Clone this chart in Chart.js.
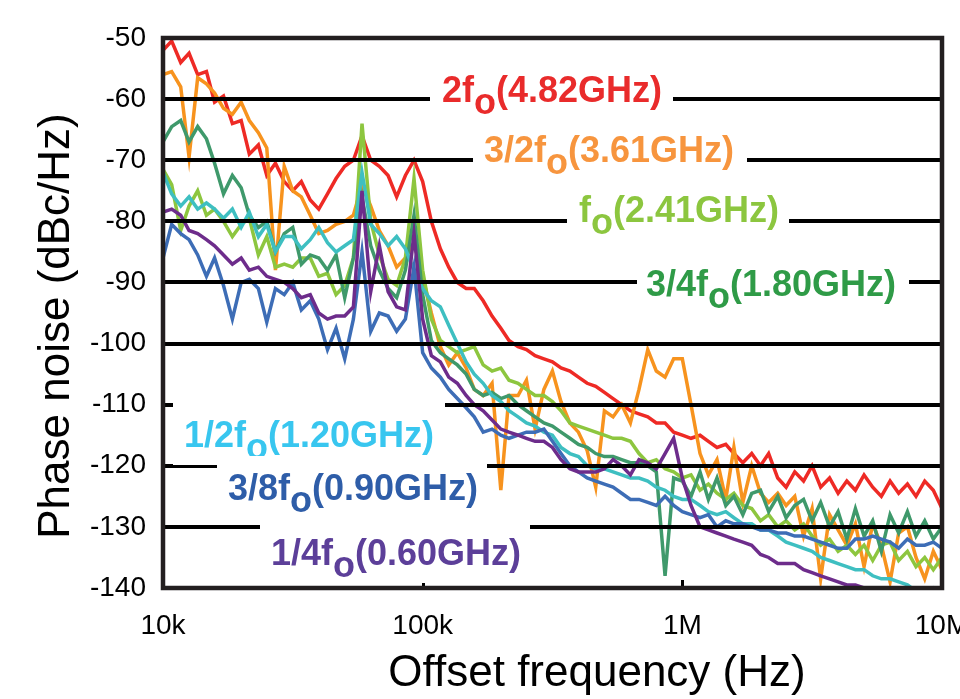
<!DOCTYPE html>
<html>
<head>
<meta charset="utf-8">
<script src="https://cdn.jsdelivr.net/npm/chart.js@4.4.1/dist/chart.umd.min.js"></script>
<style>
  html, body { margin: 0; padding: 0; background: #fff; }
</style>
</head>
<body>
<canvas id="myChart" width="960" height="699"></canvas>
<script>
// Offset frequencies (Hz), 30 points per decade
var freqs = [
  1.00e4, 1.08e4, 1.17e4, 1.26e4, 1.36e4, 1.47e4, 1.58e4, 1.71e4, 1.85e4, 2.00e4,
  2.15e4, 2.33e4, 2.51e4, 2.71e4, 2.93e4, 3.16e4, 3.41e4, 3.69e4, 3.98e4, 4.30e4,
  4.64e4, 5.01e4, 5.41e4, 5.84e4, 6.31e4, 6.81e4, 7.36e4, 7.94e4, 8.58e4, 9.26e4,
  1.00e5, 1.08e5, 1.17e5, 1.26e5, 1.36e5, 1.47e5, 1.58e5, 1.71e5, 1.85e5, 2.00e5,
  2.15e5, 2.33e5, 2.51e5, 2.71e5, 2.93e5, 3.16e5, 3.41e5, 3.69e5, 3.98e5, 4.30e5,
  4.64e5, 5.01e5, 5.41e5, 5.84e5, 6.31e5, 6.81e5, 7.36e5, 7.94e5, 8.58e5, 9.26e5,
  1.00e6, 1.08e6, 1.17e6, 1.26e6, 1.36e6, 1.47e6, 1.58e6, 1.71e6, 1.85e6, 2.00e6,
  2.15e6, 2.33e6, 2.51e6, 2.71e6, 2.93e6, 3.16e6, 3.41e6, 3.69e6, 3.98e6, 4.30e6,
  4.64e6, 5.01e6, 5.41e6, 5.84e6, 6.31e6, 6.81e6, 7.36e6, 7.94e6, 8.58e6, 9.26e6,
  1.00e7
];

// Phase noise (dBc/Hz) of each output
var pn2f = [
  -52, -50.5, -54, -52.5, -56, -55.5, -60.5, -59.5, -64, -63.5,
  -69, -67.5, -72.5, -70.5, -73.5, -75, -73.5, -76.5, -78, -75.5,
  -73, -71, -70, -66, -70, -71, -72.5, -76, -72.5, -70,
  -73.5, -80, -84.5, -87.5, -90, -91, -91, -93, -95.5, -97.5,
  -99.5, -100.5, -101, -102, -102.5, -103, -104, -104.5, -105.5, -106.5,
  -107, -108, -109, -110, -111, -111.5, -112, -113, -113, -114.5,
  -115, -115.5, -115, -116, -117, -116.5, -118, -119.5, -118, -120,
  -118, -122, -123.5, -121, -122.5, -120, -123.5, -122, -124.5, -122.5,
  -124, -121.5, -123.5, -125, -122.5, -124.5, -123, -125, -122.5, -124, -127
];
var pn3_2f = [
  -56, -55.5, -58, -69.5, -56.5, -57.5, -59, -61.5, -62.5, -60.5,
  -63.5, -65.5, -68, -88, -71, -75, -76, -79, -82, -81.5,
  -80.5, -80, -79, -74, -77.5, -81.5, -84, -87.5, -86, -83.5,
  -89, -95, -100.5, -103.5, -101.5, -104, -107.5, -108.5, -106.5, -124,
  -108.5, -108.5, -106, -114, -107.5, -104.5, -109.5, -113, -114.5, -117.5,
  -123.5, -111, -112, -110, -113, -107.5, -101, -104.5, -105.5, -102.5,
  -102.5, -110, -118, -121.5, -119, -125.5, -117, -126, -120, -124.5,
  -126, -124.5, -126.5, -125, -131.5, -127, -138.5, -128, -130.5, -133,
  -129.5, -136.5, -129.5, -133, -139, -131, -130, -135, -138.5, -134, -137
];
var pnF = [
  -71.5, -74, -81.5, -77.5, -75, -79, -78, -80, -82.5, -80.5,
  -79.5, -85.5, -82.5, -87.5, -87, -87.5, -86, -86, -89, -88.5,
  -92, -90.5, -86, -64, -80, -85.5, -89.5, -90.5, -86, -73,
  -88, -96, -99.5, -100.5, -101.5, -101, -100.5, -103.5, -104.5, -104,
  -106, -106.5, -107.5, -108.5, -108.5, -109.5, -111, -113, -113.5, -114,
  -114.5, -115, -115.5, -115.5, -116, -118, -119.5, -119, -120.5, -121,
  -122, -121.5, -124, -123, -124.5, -125.5, -124.5, -126.5, -127, -129,
  -128, -130, -129, -130.5, -129.5, -131.5, -133, -132, -134, -133,
  -134.5, -133, -135.5, -133, -132.5, -135.5, -134, -136.5, -135, -137, -135
];
var pn3_4f = [
  -67, -64.5, -63.5, -67, -64.5, -66.5, -70.5, -75.5, -72.5, -74.5,
  -79, -81, -80, -85, -82, -81, -87, -85.5, -86, -88,
  -85.5, -92.5, -86, -76, -84, -88, -91, -92.5, -88, -79,
  -92, -99.5, -101.5, -102.5, -103.5, -105, -107.5, -108.5, -108, -109,
  -108.5, -110, -111, -112, -113, -113.5, -114.5, -115.5, -116.5, -117,
  -118, -118.5, -118.5, -119, -119.5, -119.5, -120, -121, -138, -122,
  -122.5, -125, -121, -125.5, -122, -126.5, -125, -128, -124.5, -124,
  -127.5, -125, -128.5, -126.5, -125.5, -129, -126, -130, -127.5, -132,
  -127, -131.5, -129, -134, -128, -131, -127.5, -131.5, -129, -132, -130
];
var pn1_2f = [
  -72, -75.5, -77.5, -76, -78, -77, -78, -79.5, -78, -81,
  -78.5, -82.5, -80.5, -85, -82.5, -82.5, -84.5, -83, -81, -83.5,
  -85, -84, -83, -72, -80.5, -82, -84, -82.5, -84.5, -88,
  -91, -93, -94, -97, -100, -103, -105, -106.5, -108.5, -109.5,
  -111, -112, -113, -113.5, -114.5, -115, -117, -118, -118.5, -120,
  -120.5, -120.5, -121, -121.5, -122, -122, -122.5, -123.5, -124, -125,
  -125.5, -125.5, -126.5, -127.5, -128, -127.5, -128.5, -129.5, -129.5, -130.5,
  -130.5, -131.5, -132.5, -133, -133.5, -134, -135, -135.5, -136, -136.5,
  -137, -137, -138, -138.5, -138.5, -139, -139.5, -140.5, -141, -140, -141.5
];
var pn3_8f = [
  -86, -80.5, -82, -83, -85.5, -89, -86, -90.5, -96, -90,
  -89.5, -91, -96.5, -91, -92, -90, -94.5, -93, -96, -101,
  -97.5, -102.5, -96, -85, -98, -95, -95.5, -98, -96, -87.5,
  -101.5, -104, -105.5, -107.5, -109, -110.5, -112, -114.5, -114, -115,
  -115.5, -115, -114.5, -114.5, -114, -116, -118, -120, -121, -122,
  -122.5, -123, -123.5, -124.5, -125.5, -125.5, -126, -126.5, -125, -126.5,
  -127.5, -128, -128.5, -128, -130, -129, -129.5, -129.5, -130, -130.5,
  -130.5, -131, -131, -131.5, -131.5, -132, -132.5, -133, -133.5, -133.5,
  -132, -132, -131.5, -132, -132.5, -133.5, -132, -133, -133, -132.5, -133.5
];
var pn1_4f = [
  -78.5, -78, -79, -81.5, -82, -83, -84, -85.5, -87, -86,
  -88, -87.5, -89, -89.5, -90, -91, -92.5, -92, -95, -96,
  -95.5, -95.5, -94, -75, -91.5, -84, -91.5, -94, -94.5, -82,
  -96, -102, -103, -105.5, -106.5, -108.5, -110, -111, -112.5, -114,
  -114.5, -115, -115.5, -116, -116, -117, -119, -120.5, -121, -121,
  -121, -120.5, -119, -120, -121.5, -119, -119.5, -120.5, -118, -115.5,
  -122, -126.5, -130, -130.5, -131, -131.5, -132, -132.5, -133, -134.5,
  -135, -136, -136, -136, -137, -137.5, -138, -138.5, -139, -139.5,
  -139.5, -140, -140.5, -141, -141, -141.5, -142, -142, -142.5, -143, -143
];

var xTickValues = [1e4, 1e5, 1e6, 1e7];
var xTickLabels = ['10k', '100k', '1M', '10M'];

// Label text is split around the subscript "o"
var labelHead = ['2f', '3/2f', 'f', '3/4f', '1/2f', '3/8f', '1/4f'];
var labelTail = ['(4.82GHz)', '(3.61GHz)', '(2.41GHz)', '(1.80GHz)', '(1.20GHz)', '(0.90GHz)', '(0.60GHz)'];

var series = [pn2f, pn3_2f, pnF, pn3_4f, pn1_2f, pn3_8f, pn1_4f];
var lineColors = ['#ee2a25', '#f7931e', '#8dc63f', '#3f996b', '#3ebfc1', '#3d6db6', '#6d2c8b'];
var textColors = ['#e92b2b', '#f7953e', '#8cc63f', '#2f9b47', '#38c6ef', '#2e5da8', '#5c3f99'];
// left x, baseline y, white box left/right (px)
var labelPos = [
  [442, 102, 430, 673],
  [484, 162, 473, 747],
  [579, 222, 567, 789],
  [646, 296, 637, 909],
  [184, 447, 173, 445],
  [228, 500, 217, 487],
  [271, 565, 260, 530]
];

var datasets = series.map(function (vals, i) {
  return {
    label: labelHead[i] + 'o' + labelTail[i],
    data: vals.map(function (v, j) { return { x: freqs[j], y: v }; }),
    borderColor: lineColors[i],
    borderWidth: 3.5,
    pointRadius: 0,
    tension: 0,
    fill: false,
    order: series.length - 1 - i
  };
});

var overlay = {
  id: 'overlay',
  afterDatasetsDraw: function (chart) {
    var ctx = chart.ctx, a = chart.chartArea;
    var ys = chart.scales.y, xs = chart.scales.x;
    ctx.save();

    // horizontal grid lines sit on top of the traces
    ctx.strokeStyle = '#000';
    ctx.lineWidth = 4;
    ys.ticks.forEach(function (t) {
      if (t.value <= ys.min || t.value >= ys.max) return;
      var y = Math.round(ys.getPixelForValue(t.value));
      ctx.beginPath();
      ctx.moveTo(a.left, y);
      ctx.lineTo(a.right, y);
      ctx.stroke();
    });

    // small inward ticks on the frequency axis
    ctx.lineWidth = 3;
    xTickValues.forEach(function (v) {
      var x = Math.round(xs.getPixelForValue(v)) + 0.5;
      ctx.beginPath();
      ctx.moveTo(x, a.bottom);
      ctx.lineTo(x, a.bottom - 8);
      ctx.stroke();
    });

    // trace labels on white backing
    ctx.font = 'bold 36px "Liberation Sans", Arial, sans-serif';
    ctx.textBaseline = 'alphabetic';
    ctx.textAlign = 'left';
    labelPos.forEach(function (p, i) {
      ctx.fillStyle = '#fff';
      ctx.fillRect(p[2], p[1] - 44, p[3] - p[2], 62);
      ctx.fillStyle = textColors[i];
      var x = p[0];
      ctx.fillText(labelHead[i], x, p[1]);
      x += ctx.measureText(labelHead[i]).width;
      ctx.fillText('o', x, p[1] + 12);
      x += ctx.measureText('o').width;
      ctx.fillText(labelTail[i], x, p[1]);
    });

    // plot frame
    ctx.strokeStyle = '#231f20';
    ctx.lineWidth = 4.5;
    ctx.strokeRect(a.left, a.top, a.right - a.left, a.bottom - a.top);
    ctx.restore();
  },
  afterDraw: function (chart) {
    var ctx = chart.ctx;
    ctx.save();
    ctx.fillStyle = '#000';
    ctx.font = '44px "Liberation Sans", Arial, sans-serif';
    ctx.textAlign = 'center';
    ctx.textBaseline = 'alphabetic';
    ctx.fillText('Offset frequency (Hz)', 597, 686);
    ctx.translate(69, 326);
    ctx.rotate(-Math.PI / 2);
    ctx.fillText('Phase noise (dBc/Hz)', 0, 0);
    ctx.restore();
  }
};

var ctx = document.getElementById('myChart').getContext('2d');
var myChart = new Chart(ctx, {
  type: 'line',
  data: { datasets: datasets },
  plugins: [overlay],
  options: {
    responsive: false,
    animation: false,
    events: [],
    layout: { padding: { left: 0, top: 38, right: 18, bottom: 0 } },
    plugins: { legend: { display: false }, tooltip: { enabled: false } },
    scales: {
      x: {
        type: 'logarithmic',
        min: 1e4,
        max: 1e7,
        grid: { display: false, drawTicks: false },
        border: { display: false },
        afterBuildTicks: function (scale) {
          scale.ticks = xTickValues.map(function (v) { return { value: v }; });
        },
        afterFit: function (scale) {
          scale.height = 111;
          scale.paddingLeft = 0;
          scale.paddingRight = 0;
        },
        ticks: {
          autoSkip: false,
          maxRotation: 0,
          padding: 21,
          color: '#000',
          font: { family: '"Liberation Sans", Arial, sans-serif', size: 28 },
          callback: function (v, i) { return xTickLabels[i]; }
        }
      },
      y: {
        min: -140,
        max: -50,
        grid: { display: false, drawTicks: false },
        border: { display: false },
        afterFit: function (scale) {
          scale.width = 163;
          scale.paddingTop = 0;
          scale.paddingBottom = 0;
        },
        ticks: {
          stepSize: 10,
          padding: 17,
          color: '#000',
          font: { family: '"Liberation Sans", Arial, sans-serif', size: 28 },
          callback: function (v) { return String(v); }
        }
      }
    }
  }
});
</script>
</body>
</html>
